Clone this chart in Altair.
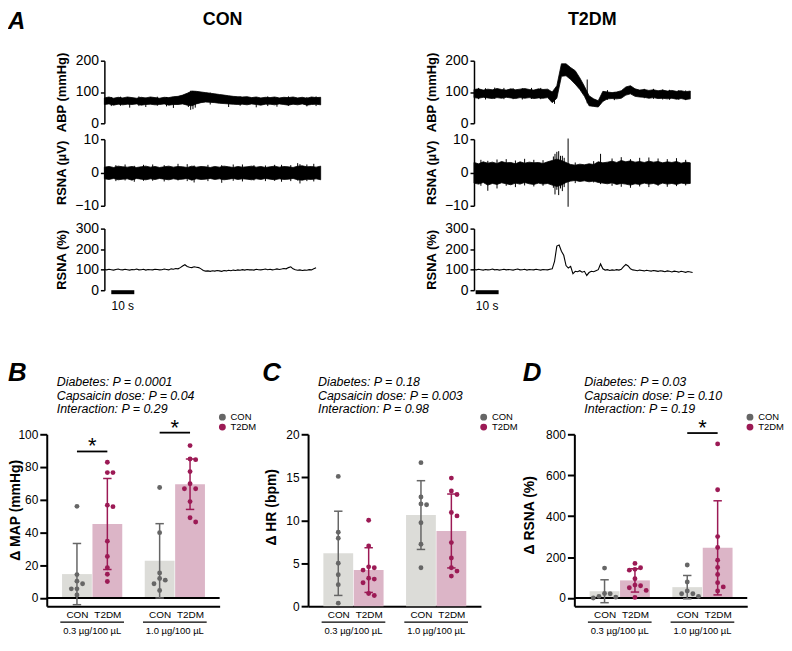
import altair as alt
import pandas as pd

FONT = "Liberation Sans"

# ======================= Panel A: example recordings =======================
T_MAX = 95          # seconds shown in each recording
ENV_STEP = 2.0      # seconds between envelope samples (ABP, RSNA uV)
PCT_STEP = 1.0      # seconds between RSNA % samples

cond_names = ["CON", "T2DM"]
panel_a_letter = "A"
scalebar_start = [3.0, 0.7]
scalebar_len = 10
scalebar_label = "10 s"

# --- CON ABP (mmHg): upper / lower envelope of the pulsatile trace
con_abp_hi = [81, 84, 80, 83, 81, 84, 82, 80, 83, 81, 84, 82, 80, 83, 82, 85, 86,
              90, 96, 103, 102, 100, 98, 96, 94, 92, 90, 88, 86, 85, 84, 85,
              82, 84, 81, 83, 82, 84, 81, 83, 82, 84, 81, 83, 80, 84, 82, 83]
con_abp_lo = [60, 62, 58, 61, 59, 61, 60, 62, 58, 60, 61, 59, 60, 62, 58, 60, 60,
              62, 58, 56, 62, 66, 68, 67, 66, 64, 63, 62, 61, 60, 61, 59,
              62, 60, 58, 61, 61, 59, 62, 60, 58, 61, 59, 62, 58, 60, 61, 59]
con_abp_spk_t = [3, 7, 11, 15, 18, 23, 27, 30, 36.5, 37.5, 38.5, 39.5, 46, 54, 59, 66, 71,
                 75, 80, 88, 92]
con_abp_spk_lo = [55, 56, 50, 55, 52, 56, 54, 49, 52, 43, 45, 50, 60, 52, 56, 51, 55,
                  53, 56, 54, 55]
con_abp_spk_hi = [84, 85, 80, 86, 82, 85, 84, 84, 96, 104, 103, 101, 98, 86, 86, 82, 86,
                  83, 86, 84, 86]

# --- CON RSNA (uV)
con_uv_hi = [1.6, 1.8, 1.5, 1.9, 1.7, 1.6, 1.8, 1.5, 1.7, 1.9, 1.6, 1.8, 1.5, 1.7, 1.9, 1.6,
             1.8, 1.7, 1.5, 1.9, 1.6, 1.8, 1.7, 1.5, 1.8, 1.6, 1.9, 1.7, 1.5, 1.8, 1.6, 1.7,
             1.9, 1.6, 1.8, 1.5, 1.7, 1.9, 1.6, 1.8, 1.7, 1.5, 1.9, 2.0, 1.7, 1.8, 1.6, 1.9]
con_uv_lo = [-1.9, -2.1, -1.8, -2.2, -2.0, -1.9, -2.3, -1.8, -2.0, -2.2, -1.9, -2.1, -1.8, -2.0,
             -2.2, -1.9, -2.1, -2.0, -1.8, -2.3, -1.9, -2.1, -2.0, -1.8, -2.1, -1.9, -2.2, -2.0,
             -1.8, -2.1, -1.9, -2.0, -2.2, -1.9, -2.1, -1.8, -2.0, -2.2, -1.9, -2.1, -2.0, -1.8,
             -2.2, -2.3, -2.0, -2.1, -1.9, -2.2]
con_uv_spk_t = [5, 9, 13, 17, 21, 26, 32, 36, 39, 45, 51, 56, 60, 65, 70, 74, 77, 81, 84, 85,
                88, 91]
con_uv_spk_lo = [-2.6, -2.4, -2.8, -2.5, -2.5, -2.7, -2.4, -2.6, -3.0, -2.6, -3.1, -2.5, -2.7,
                 -2.4, -2.6, -2.5, -2.8, -2.6, -2.4, -3.3, -2.6, -2.7]
con_uv_spk_hi = [2.2, 2.4, 2.0, 2.3, 2.4, 2.2, 2.6, 2.5, 2.1, 2.3, 2.2, 2.4, 2.4, 2.2, 2.1,
                 2.3, 2.3, 2.2, 2.8, 2.5, 2.4, 2.6]

# --- CON RSNA (%), 1 s samples
con_pct = [101, 99, 102, 100, 98, 101, 103, 100, 99, 102, 100, 98, 101, 100, 103, 99, 100, 102,
           98, 101, 100, 99, 102, 101, 99, 100, 103, 101, 99, 104, 102,
           106, 104, 110, 118,
           124, 116, 112, 110, 114, 112, 110, 104,
           96, 93, 94, 92, 95, 93, 96, 94, 92, 96,
           94, 97, 95, 98, 96, 99, 97, 100, 98, 101,
           99, 100, 98, 102, 100, 99, 101, 103, 100, 102,
           99, 101, 104, 101, 103, 106, 104, 110, 114, 104,
           100, 97, 99, 96, 98, 97, 100, 99, 104, 109]

# --- T2DM ABP (mmHg)
t2_abp_hi = [108, 110, 106, 109, 107, 111, 108, 106, 110, 107, 109, 111, 108, 106, 110, 108, 109,
             100, 120, 190, 190, 178, 168, 145, 118, 88, 78, 72, 102, 100, 98, 100,
             104, 116, 120, 110, 106, 108, 105, 107, 104, 106, 103, 105, 102, 104, 101, 103]
t2_abp_lo = [82, 80, 83, 81, 79, 82, 80, 83, 81, 79, 82, 80, 82, 79, 81, 80, 82,
             66, 80, 150, 152, 140, 125, 108, 86, 56, 54, 52, 70, 78, 79, 78,
             80, 90, 94, 86, 84, 83, 80, 82, 79, 80, 78, 80, 77, 79, 76, 78]
t2_abp_spk_t = [2, 5, 9, 13, 17, 21, 25, 29, 35, 49.2, 58, 61, 74, 78, 82, 85, 89, 92]
t2_abp_spk_lo = [77, 76, 78, 77, 77, 76, 78, 77, 62, 64, 75, 74, 80, 78, 76, 75, 75, 74]
t2_abp_spk_hi = [113, 112, 114, 113, 112, 112, 113, 113, 100, 140, 106, 100, 110, 110, 108,
                 107, 106, 105]

# --- T2DM RSNA (uV)
t2_uv_hi = [3.0, 2.6, 3.2, 2.8, 3.1, 2.7, 3.3, 2.9, 3.0, 2.6, 3.2, 2.8, 3.1, 2.9, 3.0, 2.7,
            3.2, 3.6, 4.0, 3.6, 3.0, 2.4, 2.2, 2.5, 2.3, 2.6, 2.4, 3.2, 2.9, 3.1, 3.4, 3.0,
            3.6, 3.2, 3.5, 3.1, 3.3, 3.0, 3.4, 3.1, 3.3, 2.9, 3.2, 3.0, 3.3, 2.8, 3.1, 2.9]
t2_uv_lo = [-3.2, -3.5, -3.0, -3.8, -3.3, -3.6, -3.1, -3.4, -3.7, -3.2, -3.5, -3.0, -3.4, -3.6,
            -3.2, -3.5, -3.3, -3.8, -4.2, -3.8, -3.0, -2.6, -2.4, -2.7, -2.5, -2.8, -2.6, -3.0,
            -3.2, -3.4, -3.1, -3.6, -3.3, -3.5, -3.8, -3.4, -3.6, -3.2, -3.5, -3.3, -3.7, -3.2,
            -3.5, -3.3, -3.6, -3.2, -3.4, -3.3]
t2_uv_spk_t = [3, 6, 10, 14, 18, 22, 26, 30, 34.5, 35.2, 36, 36.8, 37.6, 38.4, 39.2, 40.9, 44,
               52, 55, 60, 64, 68, 72, 76, 80, 84, 88, 92]
t2_uv_spk_lo = [-4.0, -5.5, -4.8, -4.0, -4.4, -3.9, -4.2, -4.0, -4.6, -6.6, -5.2, -6.8, -4.8,
                -5.6, -4.4, -10.3, -3.2, -3.0, -3.5, -4.0, -4.3, -4.6, -4.2, -4.4, -4.0, -4.3,
                -4.1, -3.9]
t2_uv_spk_hi = [3.8, 3.5, 3.9, 4.0, 3.6, 4.1, 3.8, 3.7, 4.8, 5.6, 6.2, 6.4, 5.0, 5.0, 4.4, 10.2,
                3.0, 3.4, 5.6, 4.2, 4.6, 4.0, 4.4, 4.5, 4.2, 4.0, 4.3, 3.8]

# --- T2DM RSNA (%), 1 s samples
t2_pct = [101, 99, 102, 100, 98, 101, 99, 100, 103, 99, 101, 98, 100, 102, 99, 101, 100, 98,
          101, 103, 99, 100, 102, 98, 101, 100, 99, 102, 100, 98, 101, 100, 99, 102,
          104, 140, 215, 220, 190, 170, 120, 108, 116, 80,
          92, 90, 95, 88, 92, 72, 86, 92, 90, 95,
          100, 128, 104, 98, 100, 96, 99, 97, 100, 98,
          102, 115, 125, 118, 104, 99, 97, 95, 98, 96,
          94, 97, 95, 93, 96, 94, 92, 95, 93, 90,
          94, 92, 89, 93, 91, 88, 92, 90, 87, 91,
          89, 86]

# ======================= Panels B-D: group data =======================
groups = ["CON", "T2DM"]
doses = ["0.3 µg/100 µL", "1.0 µg/100 µL"]
point_colors = ["#666666", "#9c1a55"]
bar_colors = ["#dcdcd8", "#dcb5c7"]
sig_symbol = "*"

# order of the four cells: CON 0.3, T2DM 0.3, CON 1.0, T2DM 1.0
map_points = [[56, 14.3, 10.3, 8.7, 5.6, 5.6, 1.8],
              [82.9, 76.6, 76.6, 56.7, 55.8, 34.7, 25.4, 18.5, 14.5, 10.1],
              [67.5, 39.9, 15.3, 11.9, 10.9, 8.7, 4.6],
              [93.1, 84.9, 84.5, 77.2, 69.8, 66.7, 66.7, 58.9, 49.0, 46.4]]
map_mean = [14.6, 45.2, 22.7, 69.5]
map_sd = [18.7, 27.8, 22.7, 15.4]
map_stats = ["Diabetes: P = 0.0001", "Capsaicin dose: P = 0.04", "Interaction: P = 0.29"]
map_sig_dose = [0, 1]
map_sig_y = [89.5, 101]

hr_points = [[15.1, 8.6, 7.9, 5.0, 3.65, 2.5, 0.35],
             [10.0, 7.0, 4.58, 4.47, 4.2, 3.26, 3.15, 2.72, 1.48, 1.24],
             [16.7, 12.7, 11.9, 11.8, 9.7, 7.2, 4.47],
             [14.9, 13.4, 13.0, 10.9, 10.5, 7.4, 5.6, 4.47, 4.08, 3.5]]
hr_mean = [6.15, 4.2, 10.6, 8.75]
hr_sd = [4.9, 2.6, 4.0, 4.3]
hr_stats = ["Diabetes: P = 0.18", "Capsaicin dose: P = 0.003", "Interaction: P = 0.98"]
hr_sig_dose = []
hr_sig_y = []

rsna_points = [[146, 22, 21, 8, 4, 0],
               [169, 148, 140, 136, 94, 63, 60, 50, 37, 3],
               [161, 78, 34, 21, 21, 8],
               [753, 529, 300, 247, 185, 149, 115, 75, 54, 34]]
rsna_mean = [33, 86, 53, 245]
rsna_sd = [56, 57, 57, 230]
rsna_stats = ["Diabetes: P = 0.03", "Capsaicin dose: P = 0.10", "Interaction: P = 0.19"]
rsna_sig_dose = [1]
rsna_sig_y = [806]

# ======================= layout constants =======================
TW = 220
H_ABP, H_UV, H_PCT = 63, 67, 62
BW, BH = 174, 173
GAP = 2.72
X_DOM = [-0.83, 4.53]
PPU_X = BW / (X_DOM[1] - X_DOM[0])
JIT_PX, CAP_PX, DOT_PX, UL_PX = 6.0, 4.5, 5.5, 34.0

TX = alt.Scale(domain=[0, T_MAX], nice=False, zero=False)
ONE = pd.DataFrame({"k": [0]})


def trace_axis(values, title, h):
    return alt.Axis(values=values, title=title, grid=False, tickSize=4, tickWidth=1.5,
                    tickColor="black", domainColor="black", domainWidth=1.5,
                    labelFontSize=14, labelColor="black", labelPadding=2,
                    labelOverlap=False, labelFlush=False,
                    titleFontSize=13, titleFontWeight="bold", titleColor="black",
                    titleAngle=-90, titleX=-43, titleY=h / 2, titleAlign="center",
                    titleBaseline="middle")


def env_panel(hi, lo, sp_t, sp_lo, sp_hi, ydom, yvals, title, h, extra=()):
    env = pd.DataFrame({"t": [i * ENV_STEP for i in range(len(hi))], "lo": lo, "hi": hi})
    spk = pd.DataFrame({"t": sp_t, "lo": sp_lo, "hi": sp_hi})
    ys = alt.Scale(domain=ydom, nice=False, zero=False)
    yax = trace_axis(yvals, title, h)
    band = alt.Chart(env).mark_area(color="black", stroke="black", strokeWidth=0.8).encode(
        x=alt.X("t:Q", scale=TX, axis=None),
        y=alt.Y("lo:Q", scale=ys, axis=yax),
        y2="hi:Q")
    spikes = alt.Chart(spk).mark_rule(color="black", strokeWidth=1).encode(
        x=alt.X("t:Q", scale=TX, axis=None), y=alt.Y("lo:Q", scale=ys, axis=yax), y2="hi:Q")
    return alt.layer(band, spikes, *extra).properties(width=TW, height=h)


def pct_panel(pct, start):
    pdf = pd.DataFrame({"t": [i * PCT_STEP for i in range(len(pct))], "v": pct})
    line = alt.Chart(pdf).mark_line(color="black", strokeWidth=1.1).encode(
        x=alt.X("t:Q", scale=TX, axis=None),
        y=alt.Y("v:Q", scale=alt.Scale(domain=[0, 300], nice=False),
                axis=trace_axis([0, 100, 200, 300], "RSNA (%)", H_PCT)))
    sb = pd.DataFrame({"t0": [start], "t1": [start + scalebar_len],
                       "tm": [start + scalebar_len / 2], "lab": [scalebar_label]})
    bar = alt.Chart(sb).mark_rule(color="black", strokeWidth=4).encode(
        x=alt.X("t0:Q", scale=TX, axis=None), x2="t1:Q", y=alt.value(H_PCT + 2))
    lab = alt.Chart(sb).mark_text(fontSize=12, color="black", baseline="middle").encode(
        x=alt.X("tm:Q", scale=TX, axis=None), y=alt.value(H_PCT + 15.5), text="lab:N")
    return alt.layer(line, bar, lab).properties(width=TW, height=H_PCT)


def col_title(name, with_letter):
    layers = [alt.Chart(pd.DataFrame({"lab": [name]})).mark_text(
        fontSize=18, fontWeight="bold", color="black", baseline="alphabetic").encode(
        x=alt.value(TW / 2 + 9), y=alt.value(-36), text="lab:N")]
    if with_letter:
        layers.append(alt.Chart(ONE).mark_text(
            text=panel_a_letter, fontSize=24, fontWeight="bold", fontStyle="italic",
            align="left", baseline="alphabetic", color="black").encode(
            x=alt.value(-97), y=alt.value(-32)))
    return layers


con_abp = env_panel(con_abp_hi, con_abp_lo, con_abp_spk_t, con_abp_spk_lo, con_abp_spk_hi,
                    [0, 200], [0, 100, 200], "ABP (mmHg)", H_ABP, col_title(cond_names[0], True))
t2_abp = env_panel(t2_abp_hi, t2_abp_lo, t2_abp_spk_t, t2_abp_spk_lo, t2_abp_spk_hi,
                   [0, 200], [0, 100, 200], "ABP (mmHg)", H_ABP, col_title(cond_names[1], False))
con_uv = env_panel(con_uv_hi, con_uv_lo, con_uv_spk_t, con_uv_spk_lo, con_uv_spk_hi,
                   [-10, 10], [-10, 0, 10], "RSNA (µV)", H_UV)
t2_uv = env_panel(t2_uv_hi, t2_uv_lo, t2_uv_spk_t, t2_uv_spk_lo, t2_uv_spk_hi,
                  [-10, 10], [-10, 0, 10], "RSNA (µV)", H_UV)
con_pc = pct_panel(con_pct, scalebar_start[0])
t2_pc = pct_panel(t2_pct, scalebar_start[1])


# ---------------------------------------------------------------
def xpos(di, gi):
    return di * GAP + gi


def swarm(vals, ppu_y):
    placed, out = [], []
    for v in vals:
        y = v * ppu_y
        for k in [0, 1, -1, 2, -2, 3, -3]:
            if all(not (s == k and abs(py - y) < DOT_PX) for s, py in placed):
                break
        placed.append((k, y))
        out.append(k)
    return out


def bar_panel(points, means, sds, ydom, yvals, ytitle, tx, ty, stats, sig_dose, sig_y,
              letter, letter_x, zero_line):
    ppu_y = BH / (ydom[1] - ydom[0])
    rows = []
    for ci, vals in enumerate(points):
        di, gi = divmod(ci, 2)
        for v, k in zip(vals, swarm(vals, ppu_y)):
            rows.append({"x": xpos(di, gi) + k * JIT_PX / PPU_X, "v": v, "group": groups[gi]})
    pts = pd.DataFrame(rows)
    cells = [divmod(ci, 2) for ci in range(4)]
    cap = CAP_PX / PPU_X
    summ = pd.DataFrame({
        "x": [xpos(d, g) for d, g in cells],
        "xl": [xpos(d, g) - cap for d, g in cells],
        "xr": [xpos(d, g) + cap for d, g in cells],
        "group": [groups[g] for d, g in cells],
        "barc": [bar_colors[g] for d, g in cells],
        "linec": [point_colors[g] for d, g in cells],
        "mean": means,
        "lo": [m - s for m, s in zip(means, sds)],
        "hi": [m + s for m, s in zip(means, sds)]})

    xsc = alt.Scale(domain=X_DOM, nice=False, zero=False)
    ysc = alt.Scale(domain=ydom, nice=False, zero=False)
    lab_expr = (f"(datum.value < 0.5 || (datum.value > {GAP - 0.5} && datum.value < {GAP + 0.5}))"
                f" ? '{groups[0]}' : '{groups[1]}'")
    xaxis = alt.Axis(values=[xpos(d, g) for d, g in cells], labelExpr=lab_expr, ticks=False,
                     grid=False, title=None, domainColor="black", domainWidth=2,
                     labelFontSize=10, labelColor="black", labelPadding=3,
                     labelFlush=False, labelOverlap=False)
    yaxis = alt.Axis(values=yvals, title=ytitle, grid=False, tickSize=7, tickWidth=2,
                     tickColor="black", domainColor="black", domainWidth=2,
                     labelFontSize=12, labelColor="black", labelPadding=2,
                     labelOverlap=False, labelFlush=False,
                     titleFontSize=14, titleFontWeight="bold", titleColor="black",
                     titleAngle=-90, titleX=tx, titleY=ty, titleAlign="center",
                     titleBaseline="middle")
    X = lambda f: alt.X(f, scale=xsc, axis=xaxis)
    Y = lambda f: alt.Y(f, scale=ysc, axis=yaxis)

    layers = []
    layers.append(alt.Chart(summ).mark_bar(width=30).encode(
        x=X("x:Q"), y=Y("mean:Q"), y2=alt.datum(0),
        fill=alt.Fill("barc:N", scale=None)))
    if zero_line:
        layers.append(alt.Chart(ONE).mark_rule(color="black", strokeWidth=2).encode(
            y=alt.Y(datum=0, scale=ysc, axis=yaxis)))
    layers.append(alt.Chart(summ).mark_rule(strokeWidth=1.5).encode(
        x=X("x:Q"), y=Y("lo:Q"), y2="hi:Q", stroke=alt.Stroke("linec:N", scale=None)))
    layers.append(alt.Chart(summ).mark_rule(strokeWidth=1.5).encode(
        x=X("xl:Q"), x2="xr:Q", y=Y("hi:Q"), stroke=alt.Stroke("linec:N", scale=None)))
    layers.append(alt.Chart(summ).mark_rule(strokeWidth=1.5).encode(
        x=X("xl:Q"), x2="xr:Q", y=Y("lo:Q"), stroke=alt.Stroke("linec:N", scale=None)))
    layers.append(alt.Chart(pts).mark_circle(size=24, opacity=1).encode(
        x=X("x:Q"), y=Y("v:Q"),
        color=alt.Color("group:N", scale=alt.Scale(domain=groups, range=point_colors),
                        legend=alt.Legend(title=None, orient="none", legendX=BW - 2,
                                          legendY=-22, labelFontSize=9.5, labelColor="black",
                                          symbolType="circle", symbolSize=48, rowPadding=-3,
                                          padding=0, labelOffset=3.5, symbolStrokeWidth=0))))
    if sig_dose:
        sig = pd.DataFrame({"x1": [xpos(d, 0) for d in sig_dose],
                            "x2": [xpos(d, 1) for d in sig_dose],
                            "xm": [xpos(d, 0) + 0.5 for d in sig_dose],
                            "y": sig_y, "s": [sig_symbol] * len(sig_dose)})
        layers.append(alt.Chart(sig).mark_rule(color="black", strokeWidth=1.8).encode(
            x=X("x1:Q"), x2="x2:Q", y=Y("y:Q")))
        layers.append(alt.Chart(sig).mark_text(fontSize=22, color="black",
                                               baseline="alphabetic", dy=2).encode(
            x=X("xm:Q"), y=Y("y:Q"), text="s:N"))
    ul = UL_PX / PPU_X
    dose_df = pd.DataFrame({"xc": [xpos(d, 0) + 0.5 for d in range(2)],
                            "xl": [xpos(d, 0) + 0.5 - ul for d in range(2)],
                            "xr": [xpos(d, 0) + 0.5 + ul for d in range(2)],
                            "lab": doses})
    layers.append(alt.Chart(dose_df).mark_rule(color="black", strokeWidth=1.3).encode(
        x=X("xl:Q"), x2="xr:Q", y=alt.value(BH + 16)))
    layers.append(alt.Chart(dose_df).mark_text(fontSize=9.5, color="black",
                                               baseline="middle").encode(
        x=X("xc:Q"), y=alt.value(BH + 25), text="lab:N"))
    layers.append(alt.Chart(ONE).mark_text(
        text=stats, align="left", baseline="alphabetic", fontSize=12.5, fontStyle="italic",
        lineHeight=14, color="black").encode(x=alt.value(10), y=alt.value(-49)))
    layers.append(alt.Chart(ONE).mark_text(
        text=letter, fontSize=26, fontWeight="bold", fontStyle="italic", align="left",
        baseline="alphabetic", color="black").encode(x=alt.value(letter_x), y=alt.value(-54)))
    return alt.layer(*layers).properties(width=BW, height=BH)


pB = bar_panel(map_points, map_mean, map_sd, [-5, 100], [0, 20, 40, 60, 80, 100],
               "Δ MAP (mmHg)", -31, 76, map_stats, map_sig_dose, map_sig_y, "B", -39, True)
pC = bar_panel(hr_points, hr_mean, hr_sd, [0, 20], [0, 5, 10, 15, 20],
               "Δ HR (bpm)", -37, 73, hr_stats, hr_sig_dose, hr_sig_y, "C", -46, False)
pD = bar_panel(rsna_points, rsna_mean, rsna_sd, [-40, 800], [0, 200, 400, 600, 800],
               "Δ RSNA (%)", -45, 81, rsna_stats, rsna_sig_dose, rsna_sig_y, "D", -52, True)


def spacer(w, h):
    return alt.Chart(ONE).mark_point(opacity=0).encode(
        x=alt.value(0), y=alt.value(0)).properties(width=w, height=h)


def vc(*charts, spacing):
    return alt.vconcat(*charts, spacing=spacing, bounds="flush")


def hc(*charts, spacing):
    return alt.hconcat(*charts, spacing=spacing, bounds="flush")


con_col = vc(vc(con_abp, con_uv, spacing=16), con_pc, spacing=169)
t2_col = vc(vc(t2_abp, t2_uv, spacing=16), t2_pc, spacing=169)
pair = hc(con_col, t2_col, spacing=372)
top = hc(spacer(58, 10), pair, spacing=0)
bottom = hc(pB, spacer(89, BH), pC, spacer(94, BH), pD, spacing=0).resolve_scale(
    color="independent").resolve_legend(color="independent")

chart = vc(top, bottom, spacing=376).resolve_scale(color="independent").resolve_legend(
    color="independent").properties(padding=0).configure(font=FONT).configure_view(
    stroke=None).configure_axis(labelOverlap=False)

chart.save("out.html", embed_options={"renderer": "svg", "actions": False})
